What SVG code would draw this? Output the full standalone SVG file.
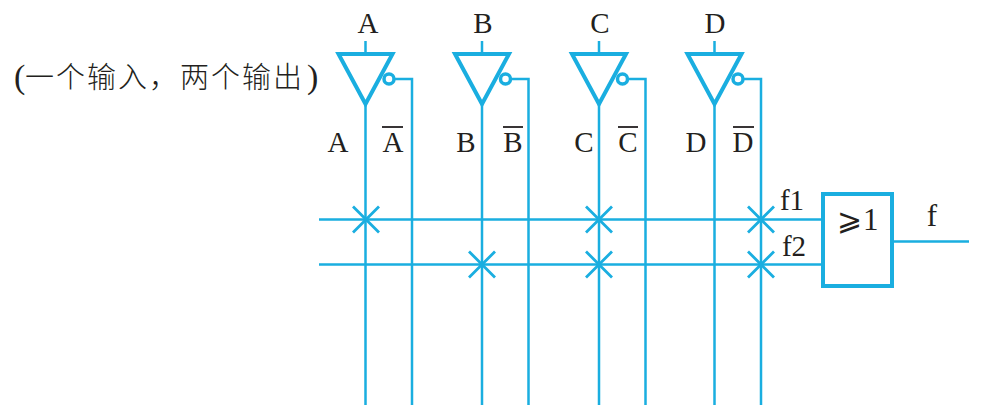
<svg xmlns="http://www.w3.org/2000/svg" width="981" height="416" viewBox="0 0 981 416">
<style>
.w{fill:none;stroke:#1aaee0;stroke-width:2.500}
.g{fill:none;stroke:#1aaee0;stroke-width:4}
.b{fill:none;stroke:#1aaee0;stroke-width:3.500}
.t{font-family:"Liberation Serif",serif;font-size:29px;fill:#231f20;text-anchor:middle}
.c{font-family:"Noto Sans CJK SC","Liberation Serif",serif;font-size:29px;font-weight:300;letter-spacing:2px;fill:#231f20}
.p{font-family:"Liberation Serif",serif;font-size:34px;fill:#231f20}
.x{fill:none;stroke:#1aaee0;stroke-width:2.800}
.o{stroke:#231f20;stroke-width:1.800}
</style>
<defs>
<g id="inv">
<path class="w" d="M0 -13V0M0 50V351"/>
<path class="g" d="M-27 0H27L0 50Z"/>
<circle class="b" cx="23.500" cy="25" r="5"/>
<path class="w" d="M29 25H46.500V351"/>
</g>
<path id="cross" class="x" d="M-13 -13L13 13M13 -13L-13 13"/>
</defs>
<rect width="981" height="416" fill="#fff"/>
<g id="connectors">
<path class="w" d="M319 219.500H822M319 264.500H822M892 241.500H969"/>
<use href="#cross" x="366" y="219.500"/>
<use href="#cross" x="599" y="219.500"/>
<use href="#cross" x="761" y="219.500"/>
<use href="#cross" x="482" y="264.500"/>
<use href="#cross" x="599" y="264.500"/>
<use href="#cross" x="761" y="264.500"/>
</g>
<g id="inverter-a"><use href="#inv" x="365.500" y="54"/><text class="t" x="368" y="33">A</text><text class="t" x="338" y="152">A</text><text class="t" x="393" y="152">A</text><path class="o" d="M382 127H403"/></g>
<g id="inverter-b"><use href="#inv" x="482" y="54"/><text class="t" x="483" y="33">B</text><text class="t" x="466" y="152">B</text><text class="t" x="513" y="152">B</text><path class="o" d="M503 127H523"/></g>
<g id="inverter-c"><use href="#inv" x="599" y="54"/><text class="t" x="600" y="33">C</text><text class="t" x="584" y="152">C</text><text class="t" x="628" y="152">C</text><path class="o" d="M618 127H638"/></g>
<g id="inverter-d"><use href="#inv" x="714.500" y="54"/><text class="t" x="715" y="33">D</text><text class="t" x="696" y="152">D</text><text class="t" x="743" y="152">D</text><path class="o" d="M733 127H754"/></g>
<g id="or-gate">
<rect class="g" x="823" y="194" width="69" height="92" fill="#fff"/>
<text x="837" y="230" font-family="'Noto Sans CJK JP','DejaVu Sans',sans-serif" font-weight="300" font-size="30" fill="#231f20">⩾<tspan font-family="'Liberation Serif',serif" font-weight="400" font-size="31" dx="1">1</tspan></text>
</g>
<text class="t" x="792" y="210">f1</text>
<text class="t" x="794" y="256">f2</text>
<text class="t" x="932" y="226" style="font-size:31px">f</text>
<text class="p" x="14" y="88">(</text>
<text class="c" x="25" y="88">一个输入，两个输出</text>
<text class="p" x="307" y="88">)</text>
</svg>
